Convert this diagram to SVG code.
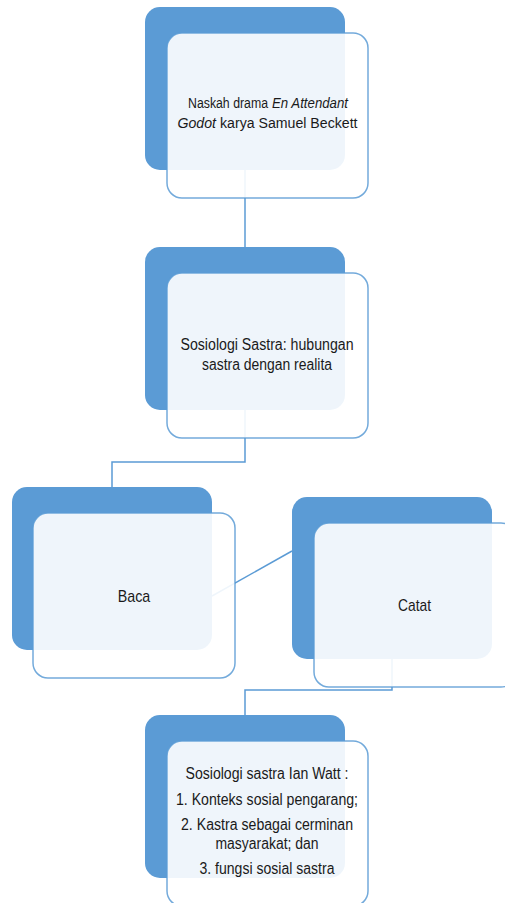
<svg xmlns="http://www.w3.org/2000/svg" width="505" height="903" viewBox="0 0 505 903">
<style>
.dark{fill:#5B9BD5}
.light{fill:#FFFFFF;fill-opacity:0.9;stroke:#5B9BD5;stroke-opacity:0.85;stroke-width:1.5}
.conn{fill:none;stroke:#5B9BD5;stroke-width:1.5}
.t{font-family:"Liberation Sans",Arial,sans-serif;font-size:16px;fill:#1A1A1A;text-anchor:middle}
.b{font-size:17px}
.s{font-size:14px;text-anchor:start}
.i{font-style:italic}
</style>
<rect width="505" height="903" fill="#FFFFFF"/>
<g id="connectors">
<path class="conn" d="M245,170 V247"/>
<path class="conn" d="M245,410 V462 H112 V487"/>
<path class="conn" d="M212,596 L292,551"/>
<path class="conn" d="M392,659 V690 H245 V715"/>
</g>
<g id="node1">
<rect class="dark" x="145" y="7" width="200" height="163" rx="15"/>
<rect class="light" x="167" y="33" width="201" height="165" rx="15"/>
<text class="t s" x="188" y="108" textLength="80" lengthAdjust="spacingAndGlyphs">Naskah drama</text>
<text class="t s i" x="272" y="108" textLength="76" lengthAdjust="spacingAndGlyphs">En Attendant</text>
<text class="t s i" x="177.5" y="128" textLength="38.5" lengthAdjust="spacingAndGlyphs">Godot</text>
<text class="t s" x="220" y="128" textLength="137.5" lengthAdjust="spacingAndGlyphs">karya Samuel Beckett</text>
</g>
<g id="node2">
<rect class="dark" x="145" y="247" width="200" height="163" rx="15"/>
<rect class="light" x="167" y="273" width="201" height="165" rx="15"/>
<text class="t" x="267" y="350" textLength="173" lengthAdjust="spacingAndGlyphs">Sosiologi Sastra: hubungan</text>
<text class="t" x="267" y="370" textLength="130" lengthAdjust="spacingAndGlyphs">sastra dengan realita</text>
</g>
<g id="node3">
<rect class="dark" x="12" y="487" width="200" height="163" rx="15"/>
<rect class="light" x="33" y="513" width="202" height="165" rx="15"/>
<text class="t b" x="134" y="602" textLength="32.5" lengthAdjust="spacingAndGlyphs">Baca</text>
</g>
<g id="node4">
<rect class="dark" x="292" y="497" width="200" height="162" rx="15"/>
<rect class="light" x="314" y="523" width="202" height="164" rx="15"/>
<text class="t b" x="414.5" y="611" textLength="33" lengthAdjust="spacingAndGlyphs">Catat</text>
</g>
<g id="node5">
<rect class="dark" x="145" y="715" width="200" height="163" rx="15"/>
<rect class="light" x="167" y="741" width="201" height="165" rx="15"/>
<text class="t" x="267" y="779" textLength="163" lengthAdjust="spacingAndGlyphs">Sosiologi sastra Ian Watt :</text>
<text class="t" x="267" y="805" textLength="182" lengthAdjust="spacingAndGlyphs">1. Konteks sosial pengarang;</text>
<text class="t" x="267" y="830" textLength="172" lengthAdjust="spacingAndGlyphs">2. Kastra sebagai cerminan</text>
<text class="t" x="267" y="849" textLength="103" lengthAdjust="spacingAndGlyphs">masyarakat; dan</text>
<text class="t" x="267" y="874" textLength="135" lengthAdjust="spacingAndGlyphs">3. fungsi sosial sastra</text>
</g>
</svg>
